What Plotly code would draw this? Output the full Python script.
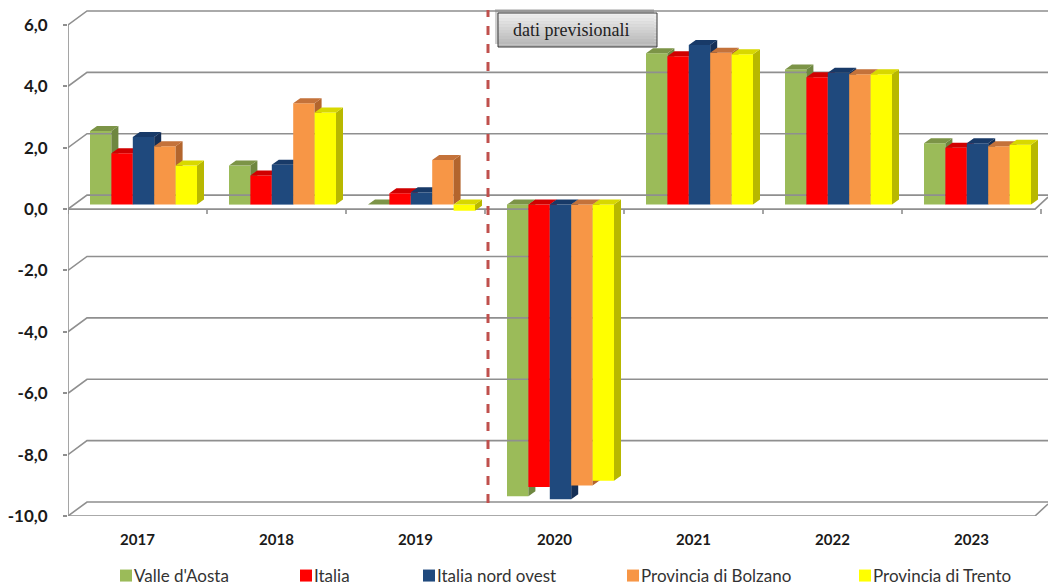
import plotly.graph_objects as go

years = ["2017", "2018", "2019", "2020", "2021", "2022", "2023"]
valle = [2.4, 1.27, 0.0, -9.5, 4.93, 4.4, 2.0]
italia = [1.67, 0.95, 0.37, -9.2, 4.83, 4.15, 1.85]
nord_ovest = [2.2, 1.3, 0.4, -9.6, 5.2, 4.3, 2.0]
bolzano = [1.9, 3.3, 1.45, -9.15, 4.95, 4.25, 1.9]
trento = [1.27, 3.0, -0.2, -9.0, 4.9, 4.25, 1.95]
y_ticks = [-10, -8, -6, -4, -2, 0, 2, 4, 6]
y_tick_labels = ["-10,0", "-8,0", "-6,0", "-4,0", "-2,0", "0,0", "2,0", "4,0", "6,0"]
names = ["Valle d'Aosta", "Italia", "Italia nord ovest", "Provincia di Bolzano", "Provincia di Trento"]
front_colors = ["#9BBB59", "#FF0000", "#1F497D", "#F79646", "#FFFF00"]
side_colors = ["#6E8740", "#B80000", "#152F56", "#B3652D", "#B8B800"]
top_colors = ["#7C9447", "#D00000", "#183A68", "#C4723A", "#D8D800"]
legend_text_px = [134, 314, 437, 641, 873]

W, H = 1048, 588
L, B = 68, 72
PX_X = 139.0
PX_Y = 30.69
x0 = -0.5
x1 = x0 + (W - L) / PX_X
y_bottom = -10
y_top = y_bottom + (H - B) / PX_Y
px = lambda p: p / PX_X
py = lambda p: p / PX_Y
BAR_W = px(21.4)
BASE = py(4.5)
DX = px(6)
OX, OY = px(7), py(5)
WALL_X, WALL_Y = px(19), py(14)
GRID = "#8F8F8F"

fig = go.Figure()

# Walls, floor and gridlines, from the tick list
gx, gy = [], []
end = 6.5
for t in y_ticks:
    gx += [x0, x0 + WALL_X, x1 + 1, None]
    gy += [t, t + WALL_Y, t + WALL_Y, None]
for t in (0, -10):
    gx += [x0, end - px(6), end + px(7), None]
    gy += [t, t, t + py(12), None]
gx += [x0, x0, None]
gy += [-10, 6, None]
for i in range(len(years) + 1):
    gx += [x0 + i, x0 + i, None]
    gy += [0, -py(5), None]
fig.add_trace(go.Scatter(x=gx, y=gy, mode="lines", line=dict(color=GRID, width=1.6),
                         showlegend=False, hoverinfo="skip"))

series = [valle, italia, nord_ovest, bolzano, trento]
for k, vals in enumerate(series):
    ax = "" if k == 0 else str(k + 1)
    xa, ya = "x" + ax, "y" + ax
    xs = [i + (k - 2) * BAR_W + DX for i in range(len(years))]
    leg = "legend" if k == 0 else f"legend{k + 1}"
    fig.add_trace(go.Bar(x=xs, y=vals, base=[BASE] * len(vals), width=BAR_W, name=names[k],
                         marker=dict(color=front_colors[k], line=dict(width=0)),
                         xaxis=xa, yaxis=ya, legend=leg, customdata=years,
                         hovertemplate=names[k] + " %{customdata}: %{y:.1f}<extra></extra>"))
    sx, sy, tx, ty = [], [], [], []
    for c, v in zip(xs, vals):
        xl, xr = c - BAR_W / 2, c + BAR_W / 2
        hi, lo = max(BASE, BASE + v), min(BASE, BASE + v)
        sx += [xr, xr + OX, xr + OX, xr, xr, None]
        sy += [lo, lo + OY, hi + OY, hi, lo, None]
        tx += [xl, xl + OX, xr + OX, xr, xl, None]
        ty += [hi, hi + OY, hi + OY, hi, hi, None]
    fig.add_trace(go.Scatter(x=sx, y=sy, mode="lines", fill="toself", fillcolor=side_colors[k],
                             line=dict(width=0, color=side_colors[k]), showlegend=False,
                             hoverinfo="skip", xaxis=xa, yaxis=ya))
    fig.add_trace(go.Scatter(x=tx, y=ty, mode="lines", fill="toself", fillcolor=top_colors[k],
                             line=dict(width=0, color=top_colors[k]), showlegend=False,
                             hoverinfo="skip", xaxis=xa, yaxis=ya))

layout = dict(
    width=W, height=H, margin=dict(l=L, r=0, t=0, b=B, pad=0, autoexpand=False),
    paper_bgcolor="white", plot_bgcolor="white", barmode="overlay",
    separators=",.", showlegend=True,
    xaxis=dict(range=[x0, x1], tickvals=list(range(len(years))), ticktext=years, showgrid=False,
               zeroline=False, showline=False, ticks="", ticklabelstandoff=13,
               tickfont=dict(family="Lato", size=15, color="#1a1a1a", weight="bold")),
    yaxis=dict(range=[y_bottom, y_top], tickvals=y_ticks, ticktext=y_tick_labels, showgrid=False,
               zeroline=False, showline=False, ticks="outside", ticklen=4, tickcolor=GRID,
               tickwidth=1.5, ticklabelstandoff=12,
               tickfont=dict(family="Lato", size=17, color="#1a1a1a", weight="bold")),
)
for k in range(1, 5):
    n = str(k + 1)
    layout["xaxis" + n] = dict(overlaying="x", matches="x", visible=False)
    layout["yaxis" + n] = dict(overlaying="y", matches="y", visible=False)
plot_w = W - L
for k in range(5):
    key = "legend" if k == 0 else f"legend{k + 1}"
    layout[key] = dict(x=(legend_text_px[k] - 40 - L) / plot_w, xanchor="left", y=-(576 - (H - B)) / (H - B),
                       yanchor="middle", bgcolor="rgba(0,0,0,0)", borderwidth=0,
                       font=dict(family="Lato", size=17, color="#333333"))
fig.update_layout(**layout)

# Forecast separator
fig.add_shape(type="line", xref="x", yref="paper", x0=2.5 + px(3), x1=2.5 + px(3), y0=(H - B - 503) / (H - B),
              y1=(H - B - 10) / (H - B), line=dict(color="#C0504D", width=3, dash="dash"), layer="above")

# Forecast box with shaded fill
bx0, bx1, by0, by1 = 498, 657, 13, 47
sx_ = lambda p: (p - L) / plot_w
sy_ = lambda p: (H - B - p) / (H - B)
fig.add_shape(type="rect", xref="paper", yref="paper", x0=sx_(bx0 - 3), x1=sx_(bx1 - 3), y0=sy_(by1 - 3),
              y1=sy_(by0 - 4), fillcolor="rgba(120,120,120,0.35)", line=dict(width=0), layer="above")
strips = 12
for s in range(strips):
    g = int(240 - 60 * s / (strips - 1))
    fig.add_shape(type="rect", xref="paper", yref="paper", x0=sx_(bx0), x1=sx_(bx1),
                  y0=sy_(by0 + (by1 - by0) * (s + 1) / strips), y1=sy_(by0 + (by1 - by0) * s / strips),
                  fillcolor=f"rgb({g},{g},{g})", line=dict(width=0), layer="above")
fig.add_shape(type="rect", xref="paper", yref="paper", x0=sx_(bx0), x1=sx_(bx1), y0=sy_(by1), y1=sy_(by0),
              line=dict(color="#3A3A3A", width=1), layer="above")
fig.add_annotation(xref="paper", yref="paper", x=sx_(571), y=sy_(30), text="dati previsionali", showarrow=False,
                   xanchor="center", yanchor="middle",
                   font=dict(family="Liberation Serif", size=18, color="#222222"))

fig.write_html("out.html", config=dict(displayModeBar=False),
               post_script="document.body.style.margin='0';document.body.style.overflow='hidden';"
                           "document.querySelectorAll('.legendsymbols').forEach(function(e){e.setAttribute('transform','translate(12,0)');});")
